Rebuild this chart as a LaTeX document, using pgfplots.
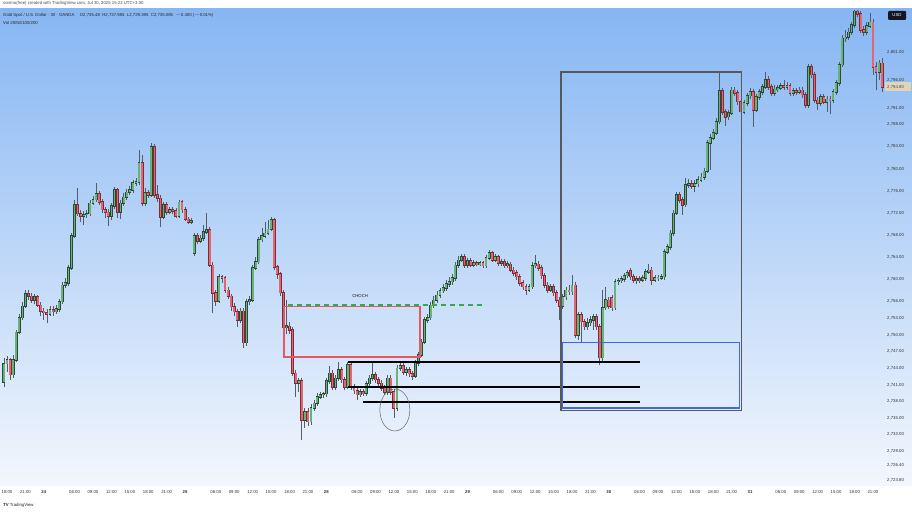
\documentclass[border=0pt]{standalone}
\usepackage{pgfplots}
\pgfplotsset{compat=1.18}
\usepackage{pgfplotstable}
\usepackage{fontspec}
\setmainfont{Liberation Sans}
\definecolor{bgtop}{RGB}{134,182,243}
\definecolor{bgbot}{RGB}{243,247,253}
\definecolor{upc}{RGB}{104,180,118}
\definecolor{dnc}{RGB}{228,102,114}
\definecolor{upo}{RGB}{44,72,56}
\definecolor{dno}{RGB}{128,44,54}
\definecolor{wickc}{RGB}{84,92,102}
\definecolor{obred}{RGB}{232,86,100}
\definecolor{chgreen}{RGB}{56,168,76}
\definecolor{boxblue}{RGB}{62,104,222}
\definecolor{boxgray}{RGB}{88,88,88}
\definecolor{tvdark}{RGB}{19,23,34}
\definecolor{lastp}{RGB}{226,212,184}
\newcommand\tf{\fontsize{4.3}{5}\selectfont}
\pgfplotstableread{
k o h l c
-1 2741.5 2745.9 2740.6 2744.8
0 2744.8 2746.2 2743.3 2745.5
1 2745.5 2745.9 2741.9 2742.8
2 2742.8 2746.4 2742.2 2745.5
3 2745.5 2750.9 2745.1 2750.5
4 2750.5 2753.8 2750.2 2753.1
5 2753.1 2756.0 2752.7 2755.2
6 2755.2 2758.1 2754.9 2757.4
7 2757.4 2758.1 2756.3 2757.0
8 2757.0 2757.6 2755.8 2756.3
9 2756.3 2757.4 2755.6 2756.9
10 2756.9 2757.2 2755.1 2755.4
11 2755.4 2756.0 2753.4 2754.3
12 2754.3 2754.9 2752.7 2754.0
13 2754.0 2754.7 2752.2 2753.8
14 2753.8 2755.2 2753.4 2754.5
15 2754.5 2755.2 2753.4 2754.2
16 2754.2 2755.4 2753.8 2754.7
17 2754.7 2756.5 2754.2 2756.0
18 2756.0 2759.6 2755.6 2759.0
19 2759.0 2760.3 2758.5 2759.4
20 2759.4 2762.6 2758.9 2762.1
21 2762.1 2768.4 2761.7 2767.9
22 2767.9 2774.4 2767.5 2773.5
23 2773.5 2776.6 2771.5 2771.9
24 2771.9 2772.6 2770.4 2771.5
25 2771.5 2772.4 2769.9 2771.7
26 2771.7 2772.6 2771.1 2771.9
27 2771.9 2774.4 2771.5 2773.8
28 2773.8 2775.1 2773.5 2774.4
29 2774.4 2777.5 2774.0 2775.5
30 2775.5 2776.0 2773.5 2774.0
31 2774.0 2774.6 2772.0 2772.6
32 2772.6 2773.1 2771.1 2772.2
33 2772.2 2772.8 2769.7 2771.5
34 2771.5 2773.8 2770.8 2773.3
35 2773.3 2776.7 2772.8 2776.2
36 2776.2 2776.6 2771.1 2772.2
37 2772.2 2774.4 2770.9 2773.8
38 2773.8 2775.7 2773.3 2774.9
39 2774.9 2776.4 2774.4 2775.8
40 2775.8 2776.9 2775.3 2776.2
41 2776.2 2778.0 2775.7 2777.5
42 2777.5 2778.4 2776.9 2777.6
43 2777.6 2783.4 2777.1 2781.1
44 2781.1 2782.5 2773.3 2773.8
45 2773.8 2776.6 2773.3 2775.7
46 2775.7 2776.2 2774.7 2775.3
47 2775.3 2784.7 2774.9 2784.0
48 2784.0 2784.5 2774.7 2775.3
49 2775.3 2777.1 2774.0 2774.7
50 2774.7 2775.3 2769.5 2771.3
51 2771.3 2774.0 2770.9 2773.5
52 2773.5 2774.0 2771.7 2772.2
53 2772.2 2773.1 2771.9 2772.6
54 2772.6 2773.1 2771.9 2772.4
55 2772.4 2772.9 2771.1 2771.5
56 2771.5 2774.4 2771.1 2774.0
57 2774.0 2774.4 2772.0 2772.6
58 2772.6 2773.1 2770.6 2770.9
59 2770.9 2771.3 2770.0 2770.4
60 2770.4 2771.1 2770.0 2770.6
61 2764.8 2768.4 2764.3 2767.9
62 2767.9 2768.4 2766.4 2767.0
63 2767.0 2768.1 2766.6 2767.5
64 2767.5 2769.9 2767.0 2768.6
65 2768.6 2772.0 2768.2 2769.0
66 2769.0 2769.5 2762.3 2762.6
67 2762.6 2763.2 2754.0 2757.6
68 2757.6 2758.1 2755.2 2756.1
69 2756.1 2761.0 2755.8 2760.5
70 2760.5 2760.8 2759.4 2760.3
71 2760.3 2760.7 2757.6 2758.1
72 2758.1 2758.7 2756.5 2757.0
73 2757.0 2757.4 2754.3 2755.1
74 2755.1 2755.8 2753.4 2754.2
75 2754.2 2754.7 2751.5 2752.7
76 2752.7 2754.9 2752.2 2754.3
77 2754.3 2754.9 2747.7 2748.6
78 2748.6 2756.5 2748.0 2756.0
79 2756.0 2757.0 2755.4 2756.3
80 2756.3 2762.6 2756.0 2762.1
81 2762.1 2764.1 2761.7 2763.2
82 2763.2 2767.7 2762.8 2767.2
83 2767.2 2769.3 2766.8 2767.9
84 2767.9 2770.4 2767.5 2768.4
85 2768.4 2770.8 2768.1 2769.1
86 2769.1 2771.3 2768.8 2770.8
87 2770.8 2771.1 2761.7 2762.3
88 2762.3 2762.6 2760.1 2761.0
89 2761.0 2761.4 2757.0 2757.6
90 2757.6 2758.1 2750.4 2751.3
91 2751.3 2756.3 2750.2 2751.6
92 2751.6 2752.4 2750.2 2750.9
93 2750.9 2751.5 2742.6 2743.1
94 2743.1 2743.7 2738.8 2741.3
95 2741.3 2742.2 2739.7 2741.7
96 2741.7 2742.2 2731.0 2734.6
97 2734.6 2736.8 2733.2 2736.1
98 2736.1 2736.8 2733.6 2734.3
99 2734.3 2737.5 2733.7 2736.8
100 2736.8 2738.3 2736.3 2737.7
101 2737.7 2739.5 2737.2 2738.8
102 2738.8 2739.7 2738.4 2739.2
103 2739.2 2739.7 2738.6 2739.4
104 2739.4 2742.2 2738.8 2741.7
105 2741.7 2744.4 2741.2 2743.1
106 2743.1 2743.7 2740.1 2740.6
107 2740.6 2742.8 2740.1 2742.2
108 2742.2 2745.1 2741.7 2743.7
109 2743.7 2744.2 2741.3 2741.9
110 2741.9 2742.4 2740.1 2740.6
111 2740.6 2745.1 2740.2 2744.6
112 2744.6 2745.1 2740.1 2740.6
113 2740.6 2741.2 2739.4 2739.9
114 2739.9 2740.4 2738.3 2739.2
115 2739.2 2740.2 2738.8 2739.7
116 2739.7 2740.2 2739.0 2739.5
117 2739.5 2741.7 2739.0 2741.2
118 2741.2 2742.8 2740.6 2742.2
119 2742.2 2744.9 2741.7 2742.8
120 2742.8 2743.3 2741.3 2741.9
121 2741.9 2742.4 2740.8 2741.3
122 2741.3 2741.9 2739.9 2740.4
123 2740.4 2741.0 2739.2 2739.7
124 2739.7 2742.8 2739.2 2742.2
125 2742.2 2742.8 2739.2 2739.7
126 2739.7 2740.2 2735.0 2736.8
127 2736.8 2744.6 2736.3 2744.0
128 2744.0 2744.9 2743.5 2744.4
129 2744.4 2744.9 2742.8 2743.3
130 2743.3 2744.2 2742.6 2743.7
131 2743.7 2744.2 2742.4 2743.0
132 2743.0 2743.5 2741.9 2742.6
133 2742.6 2745.5 2742.2 2744.9
134 2744.9 2746.9 2744.4 2746.4
135 2746.4 2749.3 2746.0 2748.7
136 2748.7 2753.3 2748.4 2752.7
137 2752.7 2753.8 2752.2 2753.1
138 2753.1 2756.0 2752.7 2755.4
139 2755.4 2757.0 2754.9 2756.3
140 2756.3 2758.0 2755.8 2757.2
141 2757.2 2758.5 2756.7 2758.0
142 2758.0 2759.2 2757.6 2758.5
143 2758.5 2759.9 2758.0 2759.2
144 2759.2 2760.5 2758.7 2759.6
145 2759.6 2761.0 2759.0 2760.3
146 2760.3 2763.2 2759.8 2762.6
147 2762.6 2764.3 2762.1 2763.5
148 2763.5 2764.6 2763.2 2764.1
149 2764.1 2764.6 2762.1 2762.6
150 2762.6 2763.9 2762.1 2763.4
151 2763.4 2763.9 2762.3 2762.6
152 2762.6 2763.5 2762.3 2763.0
153 2763.0 2763.4 2762.5 2762.8
154 2762.8 2763.4 2762.5 2763.0
155 2763.0 2763.4 2762.1 2762.5
156 2762.5 2764.4 2762.1 2763.9
157 2763.9 2765.4 2763.5 2764.8
158 2764.8 2765.2 2763.2 2763.5
159 2763.5 2764.6 2763.2 2764.1
160 2764.1 2764.4 2762.5 2763.0
161 2763.0 2763.7 2762.5 2763.2
162 2763.2 2763.7 2762.1 2762.5
163 2762.5 2763.4 2762.1 2762.8
164 2762.8 2763.2 2761.4 2761.7
165 2761.7 2762.3 2760.7 2761.2
166 2761.2 2761.7 2759.9 2760.5
167 2760.5 2761.0 2758.9 2759.4
168 2759.4 2759.9 2758.1 2758.7
169 2758.7 2759.2 2757.2 2758.1
170 2758.1 2759.2 2757.8 2758.7
171 2758.7 2763.2 2758.3 2762.5
172 2762.5 2764.4 2762.1 2762.8
173 2762.8 2763.4 2761.6 2762.1
174 2762.1 2762.6 2760.1 2760.7
175 2760.7 2761.2 2758.5 2759.0
176 2759.0 2759.6 2757.6 2758.1
177 2758.1 2759.2 2757.8 2758.7
178 2758.7 2759.2 2757.0 2757.6
179 2757.6 2758.1 2755.8 2756.3
180 2756.3 2756.9 2752.7 2755.2
181 2755.2 2757.4 2754.7 2756.9
182 2756.9 2758.7 2756.3 2758.1
183 2758.1 2759.0 2757.2 2757.8
184 2757.8 2760.8 2757.2 2759.0
185 2759.0 2759.6 2749.5 2750.0
186 2750.0 2754.2 2749.1 2753.6
187 2753.6 2754.2 2748.6 2752.4
188 2752.4 2752.9 2750.9 2751.5
189 2751.5 2753.1 2750.9 2752.2
190 2752.2 2753.4 2751.6 2752.7
191 2752.7 2753.8 2750.9 2753.3
192 2753.3 2753.8 2750.9 2751.5
193 2751.5 2752.0 2744.6 2745.9
194 2745.9 2758.1 2745.3 2754.9
195 2754.9 2758.7 2754.5 2756.3
196 2756.3 2756.9 2754.7 2755.2
197 2756.7 2757.2 2754.3 2754.9
198 2754.9 2760.1 2754.5 2759.6
199 2759.6 2760.3 2759.0 2759.8
200 2759.8 2760.7 2759.4 2760.1
201 2760.1 2761.2 2759.6 2760.7
202 2760.7 2761.7 2760.3 2761.2
203 2761.6 2762.1 2759.9 2760.5
204 2760.5 2761.0 2759.4 2759.9
205 2759.9 2760.7 2759.2 2760.1
206 2760.1 2760.7 2759.4 2759.9
207 2759.9 2760.8 2759.6 2760.3
208 2760.3 2761.9 2759.8 2761.4
209 2761.4 2762.8 2761.0 2761.7
210 2761.7 2762.3 2759.0 2759.9
211 2759.9 2760.8 2759.6 2760.3
212 2760.3 2760.8 2759.8 2760.3
213 2760.3 2761.0 2759.9 2760.5
214 2760.5 2765.5 2759.9 2765.0
215 2765.0 2766.4 2764.6 2765.9
216 2765.9 2769.0 2765.4 2768.4
217 2768.4 2772.6 2767.9 2772.0
218 2772.0 2775.8 2771.7 2775.3
219 2775.3 2775.8 2773.8 2774.4
220 2774.4 2774.9 2771.7 2773.5
221 2773.5 2778.4 2773.1 2777.1
222 2777.1 2778.2 2776.6 2777.3
223 2777.3 2778.0 2776.4 2776.9
224 2776.9 2778.0 2775.8 2777.3
225 2777.3 2778.7 2776.7 2778.0
226 2778.0 2779.3 2777.6 2778.5
227 2778.5 2780.2 2778.0 2779.6
228 2779.6 2785.2 2779.3 2784.7
229 2784.7 2786.3 2779.8 2785.6
230 2785.6 2787.2 2785.2 2786.5
231 2786.5 2789.2 2786.1 2788.5
232 2788.5 2797.3 2788.1 2794.1
233 2794.1 2794.6 2789.7 2790.3
234 2790.3 2790.8 2787.7 2789.4
235 2789.4 2790.6 2788.8 2790.1
236 2790.1 2794.8 2789.7 2794.2
237 2794.2 2794.8 2793.2 2793.7
238 2793.7 2794.2 2791.5 2792.1
239 2792.1 2792.6 2789.7 2790.3
240 2790.3 2792.4 2789.9 2791.9
241 2791.9 2793.7 2791.4 2793.2
242 2793.2 2794.6 2792.6 2793.9
243 2793.9 2794.4 2787.6 2790.6
244 2790.6 2793.5 2790.3 2793.0
245 2793.0 2794.4 2792.4 2793.9
246 2793.9 2795.3 2793.4 2794.8
247 2794.8 2797.5 2794.4 2796.1
248 2796.1 2796.8 2794.2 2794.8
249 2794.8 2795.3 2793.2 2793.7
250 2793.7 2795.1 2793.2 2794.4
251 2794.4 2795.1 2793.9 2794.6
252 2794.6 2795.5 2794.2 2795.0
253 2795.0 2796.1 2794.2 2794.8
254 2794.8 2795.7 2794.2 2795.0
255 2795.0 2795.5 2793.2 2793.7
256 2793.7 2794.6 2793.2 2794.1
257 2794.1 2794.6 2793.4 2793.9
258 2793.9 2794.8 2793.5 2794.2
259 2794.2 2794.8 2792.8 2793.4
260 2793.4 2793.9 2791.0 2791.5
261 2791.5 2798.9 2791.0 2798.4
262 2798.4 2798.9 2796.4 2797.0
263 2797.0 2797.5 2791.9 2792.4
264 2792.4 2793.0 2790.6 2791.9
265 2791.9 2793.5 2791.4 2793.0
266 2793.0 2793.5 2791.7 2792.1
267 2792.1 2793.2 2790.3 2792.6
268 2792.6 2793.2 2789.9 2792.4
269 2792.4 2794.4 2791.9 2793.9
270 2793.9 2796.1 2793.4 2795.5
271 2795.5 2799.3 2795.0 2798.8
272 2798.8 2804.2 2798.4 2803.6
273 2803.6 2805.1 2802.9 2803.8
274 2803.8 2805.4 2803.3 2804.7
275 2804.7 2806.5 2804.2 2806.0
276 2806.0 2808.7 2805.4 2808.5
277 2808.5 2808.7 2807.4 2808.0
278 2808.0 2808.5 2804.5 2805.1
279 2805.1 2805.8 2804.0 2804.7
280 2804.7 2806.5 2804.2 2805.8
281 2805.8 2808.1 2805.4 2806.5
282 2806.5 2807.1 2797.0 2798.4
283 2798.4 2799.3 2794.2 2797.5
284 2797.5 2799.7 2796.1 2799.1
285 2799.1 2800.0 2793.9 2794.8
}\candles
\pgfplotsset{
  candle/.style 2 args={only marks, mark=*, mark size=0pt, mark options={draw=none, fill=none}, forget plot,
    restrict y to domain=2715:2815,
    error bars/.cd, y dir=both, y explicit, error mark=none,
    error bar style={line width=#1, draw=#2}},
}
\begin{document}
\begin{tikzpicture}[x=1pt,y=1pt]
\fill[white] (0,0) rectangle (912,513);
\shade[top color=bgtop, bottom color=bgbot] (0,27) rectangle (912,504);
\begin{axis}[
  at={(0pt,28pt)}, anchor=south west,
  scale only axis, width=884pt, height=475pt,
  xmin=-2.28, xmax=285.6, ymin=2722.9, ymax=2808.7,
  axis line style={draw=none}, major tick length=0pt,
  tick style={draw=none},
  yticklabel pos=right,
  ytick={2723.8,2726.4,2729,2732,2735,2738,2741,2744,2747,2750,2753,2756,2760,2764,2768,2772,2776,2780,2784,2788,2791,2796,2801},
  yticklabel style={font=\tf, text=black!80, anchor=west, inner sep=1pt, xshift=2pt,
    /pgf/number format/.cd, fixed, fixed zerofill, precision=2, 1000 sep={,}, assume math mode=true},
  xtick={0,6,12,22,28,34,40,46,52,58,68,74,80,86,92,98,104,114,120,126,132,138,144,150,160,166,172,178,184,190,196,206,212,218,224,230,236,242,252,258,264,270,276,282},
  xticklabels={18:00,21:00,\textbf{24},06:00,09:00,12:00,15:00,18:00,21:00,\textbf{25},06:00,09:00,12:00,15:00,18:00,21:00,\textbf{28},06:00,09:00,12:00,15:00,18:00,21:00,\textbf{29},06:00,09:00,12:00,15:00,18:00,21:00,\textbf{30},06:00,09:00,12:00,15:00,18:00,21:00,\textbf{31},06:00,09:00,12:00,15:00,18:00,21:00},
  xticklabel style={font=\tf, text=black!80, anchor=north, inner sep=1pt, yshift=-4.5pt},
  clip=true,
]
% wicks
\addplot[candle={0.75pt}{wickc}]
  table[x=k, y expr={(\thisrow{h}+\thisrow{l})/2}, y error expr={(\thisrow{h}-\thisrow{l})/2}] {\candles};
% up bodies: outline then fill
\addplot[candle={2.9pt}{upo}]
  table[x=k, y expr={ifthenelse(\thisrow{c}>=\thisrow{o},(\thisrow{o}+\thisrow{c})/2,2700)}, y error expr={max(abs(\thisrow{c}-\thisrow{o})/2,0.08)+0.11}] {\candles};
\addplot[candle={1.7pt}{upc}]
  table[x=k, y expr={ifthenelse(\thisrow{c}>=\thisrow{o},(\thisrow{o}+\thisrow{c})/2,2700)}, y error expr={max(abs(\thisrow{c}-\thisrow{o})/2,0.08)}] {\candles};
% down bodies: outline then fill
\addplot[candle={2.9pt}{dno}]
  table[x=k, y expr={ifthenelse(\thisrow{c}<\thisrow{o},(\thisrow{o}+\thisrow{c})/2,2700)}, y error expr={max(abs(\thisrow{c}-\thisrow{o})/2,0.08)+0.11}] {\candles};
\addplot[candle={1.7pt}{dnc}]
  table[x=k, y expr={ifthenelse(\thisrow{c}<\thisrow{o},(\thisrow{o}+\thisrow{c})/2,2700)}, y error expr={max(abs(\thisrow{c}-\thisrow{o})/2,0.08)}] {\candles};
% annotations
\draw[obred, line width=1.4pt] (axis cs:90.2,2755.1) rectangle (axis cs:134.5,2746.0);
\draw[chgreen, line width=1.4pt, dash pattern=on 5pt off 4pt] (axis cs:91.5,2755.4) -- (axis cs:155,2755.4);
\node[font=\tf, text=black!90] at (axis cs:115,2757.0) {CHOCH};
\draw[black, line width=1.2pt] (axis cs:111,2745.1) -- (axis cs:206.1,2745.1);
\draw[black, line width=1.2pt] (axis cs:111,2740.6) -- (axis cs:206.1,2740.6);
\draw[black, line width=1.2pt] (axis cs:115.9,2737.9) -- (axis cs:206.1,2737.9);
\draw[black!60, line width=0.5pt] (axis cs:126.3,2736.45) ellipse [x radius=15pt, y radius=21pt];
\draw[boxgray, line width=1.1pt] (axis cs:180.4,2797.5) rectangle (axis cs:239.3,2736.3);
\draw[boxblue, line width=1.1pt] (axis cs:181.0,2748.7) rectangle (axis cs:238.4,2736.8);
\end{axis}
% last price label
\fill[lastp] (885,421.5) rectangle (911,430.5);
\node[font=\tf, text=black!70, anchor=west, inner sep=0pt] at (887,426) {2,794.80};
% USD box
\fill[tvdark, rounded corners=1pt] (888,493) rectangle (906,502);
\node[font=\tf, text=white, inner sep=0pt] at (897,497.5) {USD};
% header
\node[font=\tf, text=black!70, anchor=west, inner sep=0pt] at (3,509.5) {sorena(free) created with TradingView.com, Jul 30, 2025 15:22 UTC+3:30};
\node[font=\tf, text=black!85, anchor=west, inner sep=0pt] at (3,497.5) {Gold Spot / U.S. Dollar · 30 · OANDA \quad O2,735.48 \ H2,737.955 \ L2,729.395 \ C2,735.085 \ $-$0.400 ($-$0.01\%)};
\node[font=\tf, text=black!85, anchor=west, inner sep=0pt] at (3,490.5) {Vol 20/50/100/200};
% footer logo
\node[font=\tf, text=black!85, anchor=west, inner sep=0pt] at (3,7.5) {\textbf{TV} TradingView};
\pgfresetboundingbox
\useasboundingbox (0,0) rectangle (912,513);
\end{tikzpicture}
\end{document}
